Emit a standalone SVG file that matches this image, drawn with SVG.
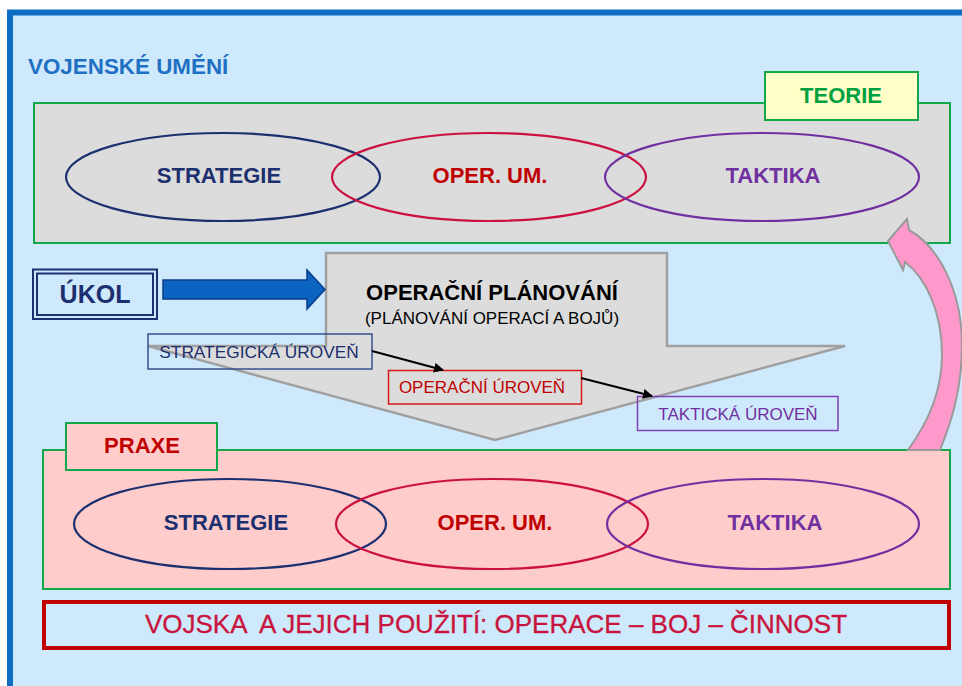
<svg xmlns="http://www.w3.org/2000/svg" width="962" height="686" viewBox="0 0 962 686">
<style>
text{font-family:"Liberation Sans",Arial,sans-serif}
.b{font-weight:bold}
.mid{text-anchor:middle}
.ell{fill:none;stroke-width:2.2}
.navy{fill:#1c2f6e}
.red{fill:#c00000}
.purp{fill:#7030a0}
.lvl{fill:none;stroke-width:1.5}
.panel{stroke:#12a84a;stroke-width:2}
.conn{stroke:#000;stroke-width:2;fill:none;marker-end:url(#ah)}
</style>
<defs>
<marker id="ah" viewBox="0 0 10 10" refX="9" refY="5" markerWidth="5" markerHeight="5" orient="auto" markerUnits="strokeWidth">
<path d="M0,0 L10,5 L0,10 z" fill="#000"/>
</marker>
</defs>
<rect x="0" y="0" width="962" height="686" fill="#ffffff"/>
<rect x="10" y="12.5" width="960" height="690" fill="#cfe9fc" stroke="#0d6cc4" stroke-width="6"/>
<text x="28" y="74" class="b" font-size="22.4" fill="#1f70c2">VOJENSKÉ UMĚNÍ</text>

<g id="teorie">
<rect class="panel" x="34" y="103" width="916" height="140" fill="#dcdcdc"/>
<g id="teorie-label">
<rect class="panel" x="765" y="72" width="153" height="48" fill="#ffffc8"/>
<text x="841" y="103" class="b mid" font-size="22" fill="#00a040">TEORIE</text>
</g>
<g id="t-strategie">
<ellipse class="ell" cx="223" cy="177" rx="157" ry="44" stroke="#1c2f6e"/>
<text x="219" y="183" class="b mid navy" font-size="22">STRATEGIE</text>
</g>
<g id="t-oper">
<ellipse class="ell" cx="489" cy="177" rx="157" ry="44" stroke="#cc1040"/>
<text x="490" y="183" class="b mid red" font-size="22">OPER. UM.</text>
</g>
<g id="t-taktika">
<ellipse class="ell" cx="762" cy="177" rx="157" ry="44" stroke="#7030a0"/>
<text x="773" y="183" class="b mid purp" font-size="22">TAKTIKA</text>
</g>
</g>

<g id="planovani">
<polygon points="326,253 667,253 667,346 845,346 495,440 148,346 326,346" fill="#dcdcdc" stroke="#a0a0a0" stroke-width="2.5" stroke-linejoin="miter"/>
<text x="492" y="300" class="b mid" font-size="22" fill="#000">OPERAČNÍ PLÁNOVÁNÍ</text>
<text x="492" y="324" class="mid" font-size="17" fill="#000">(PLÁNOVÁNÍ OPERACÍ A BOJŮ)</text>
</g>

<g id="ukol">
<rect x="33" y="269.5" width="124" height="49.5" fill="none" stroke="#1c2f6e" stroke-width="2"/>
<rect x="37" y="273.5" width="116" height="41.5" fill="none" stroke="#1c2f6e" stroke-width="2"/>
<text x="95" y="303" class="b mid navy" font-size="25">ÚKOL</text>
</g>

<g id="strategicka">
<rect class="lvl" x="148" y="334" width="224" height="35" stroke="#34508f"/>
<text x="259" y="358" class="mid navy" font-size="17.3">STRATEGICKÁ ÚROVEŇ</text>
</g>
<g id="operacni">
<rect class="lvl" x="388.5" y="370.5" width="193" height="33.5" stroke="#d81818"/>
<text x="482" y="393" class="mid" font-size="17" fill="#c00000">OPERAČNÍ ÚROVEŇ</text>
</g>
<g id="takticka">
<rect class="lvl" x="637.5" y="396.5" width="200.5" height="34" stroke="#7e40b4"/>
<text x="738" y="420" class="mid purp" font-size="17">TAKTICKÁ ÚROVEŇ</text>
</g>

<g id="praxe">
<rect class="panel" x="43" y="450" width="907" height="139" fill="#ffcccc"/>
<g id="praxe-label">
<rect class="panel" x="66" y="423" width="151" height="47" fill="#ffcccc"/>
<text x="142" y="453" class="b mid red" font-size="22">PRAXE</text>
</g>
<g id="p-strategie">
<ellipse class="ell" cx="230" cy="524" rx="156" ry="45" stroke="#1c2f6e"/>
<text x="226" y="530" class="b mid navy" font-size="22">STRATEGIE</text>
</g>
<g id="p-oper">
<ellipse class="ell" cx="492" cy="524" rx="156" ry="45" stroke="#cc1040"/>
<text x="495" y="530" class="b mid red" font-size="22">OPER. UM.</text>
</g>
<g id="p-taktika">
<ellipse class="ell" cx="763" cy="524" rx="156" ry="45" stroke="#7030a0"/>
<text x="775" y="530" class="b mid purp" font-size="22">TAKTIKA</text>
</g>
</g>

<g id="vojska">
<rect x="44" y="602" width="905" height="46" fill="none" stroke="#c00000" stroke-width="4"/>
<text x="496" y="633" class="mid" font-size="26" fill="#c8143c" stroke="#c8143c" stroke-width="0.3" xml:space="preserve">VOJSKA  A JEJICH POUŽITÍ: OPERACE – BOJ – ČINNOST</text>
</g>

<g id="connectors">
<path d="M163,280 L307,280 L307,270 L325,289.5 L307,309 L307,299 L163,299 Z" fill="#0b63c2" stroke="#0a3c8c" stroke-width="1.5"/>
<line class="conn" x1="372" y1="351" x2="443" y2="370"/>
<line class="conn" x1="581" y1="378" x2="652" y2="396"/>
<path d="M888,241 L907,219 L909,230 C938,246 962,290 962,345 C962,392 950,425 940,450 L908,450 C930,420 942,390 942,355 C942,312 926,278 905,262 L903,270 Z" fill="#ff99cc" stroke="#9a9a9a" stroke-width="2"/>
</g>
</svg>
